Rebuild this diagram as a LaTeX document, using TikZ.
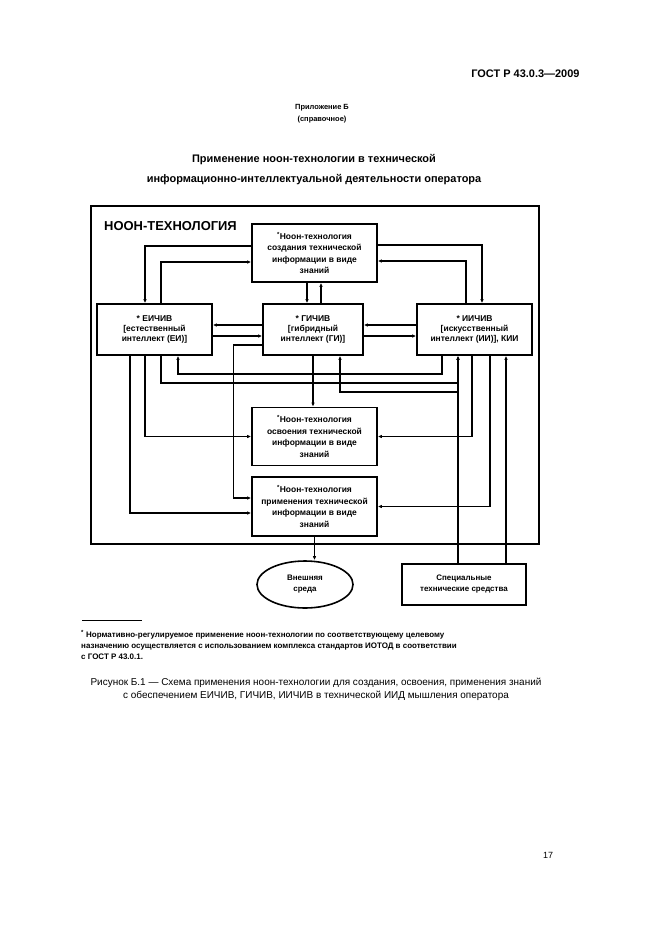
\documentclass[tikz,border=0pt]{standalone}
\usepackage{fontspec}
\setmainfont{Liberation Sans}
\usetikzlibrary{arrows.meta,shapes.geometric}
\begin{document}
\begin{tikzpicture}[x=1bp,y=-1bp,
  box/.style={draw,line width=1.6bp,inner sep=0pt,align=center,font=\fontsize{8.5}{10}\selectfont\bfseries},
  tbox/.style={box,minimum width=125bp,minimum height=58bp,font=\fontsize{8.5}{11.5}\selectfont\bfseries},
  cbox/.style={box,minimum width=115bp,minimum height=51bp},
  conn/.style={line width=1.4bp},
  arr/.style={conn,-{Latex[length=4bp,width=3.5bp]}},
]
\useasboundingbox (0,0) rectangle (661,936);
\fill[white] (0,0) rectangle (661,936);

\node[anchor=east,font=\fontsize{11}{13}\selectfont\bfseries] (gost) at (583,74) {ГОСТ Р 43.0.3—2009};
\node[align=center,font=\fontsize{7.5}{12}\selectfont\bfseries] (app) at (322,114) {Приложение Б\\(справочное)};
\node[align=center,font=\fontsize{11}{20}\selectfont\bfseries] (title) at (314,170) {Применение ноон-технологии в технической\\информационно-интеллектуальной деятельности оператора};

\node[draw,line width=2.8bp,minimum width=448bp,minimum height=338bp,inner sep=0pt] (frame) at (315,375) {};
\node[anchor=west,font=\fontsize{13}{15}\selectfont\bfseries,inner sep=0pt] (lbl) at (104,226) {НООН-ТЕХНОЛОГИЯ};

\node[tbox] (cre) at (314.5,253) {\textsuperscript{*}Ноон-технология\\создания технической\\информации в виде\\знаний};
\node[cbox] (ei) at (154.5,329.5) {* ЕИЧИВ\\{[}естественный\\интеллект (ЕИ)]};
\node[cbox,minimum width=100bp] (gi) at (313,329.5) {* ГИЧИВ\\{[}гибридный\\интеллект (ГИ)]};
\node[cbox] (ii) at (474.5,329.5) {* ИИЧИВ\\{[}искусственный\\интеллект (ИИ)], КИИ};
\node[tbox] (osv) at (314.5,436.5) {\textsuperscript{*}Ноон-технология\\освоения технической\\информации в виде\\знаний};
\node[tbox,minimum height=59bp] (prim) at (314.5,506.5) {\textsuperscript{*}Ноон-технология\\применения технической\\информации в виде\\знаний};

\node[box,minimum width=124bp,minimum height=41bp,font=\fontsize{8}{11}\selectfont\bfseries] (sp) at (464,584.5) {Специальные\\технические средства};
\node[ellipse,draw,line width=1.6bp,inner sep=0pt,minimum width=96bp,minimum height=47bp,align=center,font=\fontsize{8}{11}\selectfont\bfseries] (env) at (305,584.5) {Внешняя\\среда};

% connectors
\draw[arr] ([yshift=7bp]cre.west) -| ([xshift=-9.5bp]ei.north);
\draw[arr] ([xshift=6.5bp]ei.north) |- ([yshift=-9bp]cre.west);
\draw[arr] ([yshift=8bp]cre.east) -| ([xshift=7.5bp]ii.north);
\draw[arr] ([xshift=-8.5bp]ii.north) |- ([yshift=-8bp]cre.east);
\draw[arr] ([xshift=-7.5bp]cre.south) -- ([xshift=-7.5bp]cre.south |- gi.north);
\draw[arr] ([xshift=6.5bp]cre.south |- gi.north) -- ([xshift=6.5bp]cre.south);
\draw[arr] ([yshift=4.5bp]gi.west) -- ([yshift=4.5bp]ei.east);
\draw[arr] ([yshift=-6.5bp]ei.east) -- ([yshift=-6.5bp]gi.west);
\draw[arr] ([yshift=4.5bp]ii.west) -- ([yshift=4.5bp]gi.east);
\draw[arr] ([yshift=-6.5bp]gi.east) -- ([yshift=-6.5bp]ii.west);
\draw[arr] (gi.south) -- (gi.south |- osv.north);
\draw[arr] ([yshift=-15.5bp]gi.west) -- ++(-29bp,0) |- ([yshift=8.5bp]prim.west);
\draw[arr] ([xshift=-24.5bp]ei.south) |- ([yshift=-6.5bp]prim.west);
\draw[arr] ([xshift=-9.5bp]ei.south) |- (osv.west);
\draw[arr] ([xshift=6.5bp]ei.south) -- ++(0,-27bp) -| ([xshift=-16.5bp]ii.south);
\draw[arr] ([xshift=-32.5bp]ii.south) -- ++(0,-18bp) -| ([xshift=23.5bp]ei.south);
\coordinate (j1) at ([xshift=-16.5bp,yshift=-36bp]ii.south);
\draw[arr] (j1) -| ([xshift=27bp]gi.south);
\draw[arr] ([xshift=-2.5bp]ii.south) |- (osv.east);
\draw[arr] ([xshift=15.5bp]ii.south) |- (prim.east);
\draw[arr] ([xshift=-6bp]sp.north) -- ([xshift=-6bp]sp.north |- ii.south);
\draw[arr] ([xshift=42bp]sp.north) -- ([xshift=42bp]sp.north |- ii.south);
\draw[arr] (prim.south) -- (prim.south |- env.north);

% footnote
\draw[line width=0.8bp] (82,620) -- (142,620);
\node[anchor=north west,align=left,inner sep=0pt,font=\fontsize{8}{11}\selectfont\bfseries] (fn) at (81,630) {\textsuperscript{*} Нормативно-регулируемое применение ноон-технологии по соответствующему целевому\\назначению осуществляется с использованием комплекса стандартов ИОТОД в соответствии\\с ГОСТ Р 43.0.1.};

\node[align=center,font=\fontsize{10}{13}\selectfont] (cap) at (316,689) {Рисунок Б.1 — Схема применения ноон-технологии для создания, освоения, применения знаний\\с обеспечением ЕИЧИВ, ГИЧИВ, ИИЧИВ в технической ИИД мышления оператора};
\node[font=\fontsize{9}{11}\selectfont] (pg) at (548,855) {17};
\end{tikzpicture}
\end{document}
